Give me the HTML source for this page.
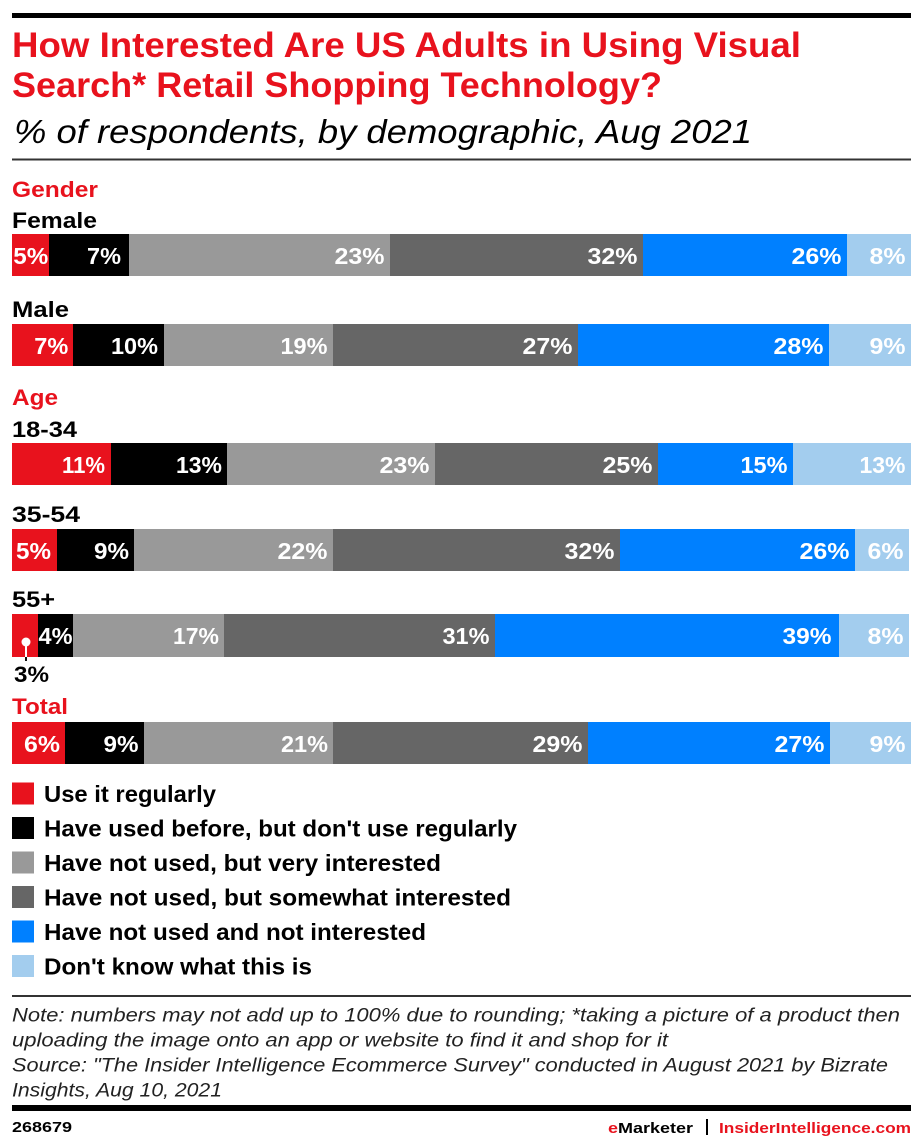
<!DOCTYPE html>
<html>
<head>
<meta charset="utf-8">
<style>
  html,body{margin:0;padding:0;background:#fff;}
  svg{display:block;}
  text{font-family:"Liberation Sans",Arial,sans-serif;}
  .t{font-weight:bold;font-size:35px;fill:#e8121d;}
  .sub{font-style:italic;font-size:33px;fill:#000;}
  .cat{font-weight:bold;font-size:22px;fill:#000;}
  .red{fill:#e8121d;}
  .v{font-weight:bold;font-size:23px;fill:#fff;}
  .lg{font-weight:bold;font-size:23px;fill:#000;}
  .note{font-style:italic;font-size:19px;fill:#222;}
  .foot{font-weight:bold;font-size:15px;fill:#000;}
</style>
</head>
<body>
<svg width="922" height="1147" viewBox="0 0 922 1147" xmlns="http://www.w3.org/2000/svg">
  <rect x="0" y="0" width="922" height="1147" fill="#fff"/>
  <!-- top rule -->
  <rect x="12" y="13" width="899" height="5" fill="#000"/>
  <!-- title -->
  <text class="t" x="12" y="57" textLength="789" lengthAdjust="spacingAndGlyphs">How Interested Are US Adults in Using Visual</text>
  <text class="t" x="12" y="97" textLength="650" lengthAdjust="spacingAndGlyphs">Search* Retail Shopping Technology?</text>
  <text class="sub" x="14" y="143" textLength="738" lengthAdjust="spacingAndGlyphs">% of respondents, by demographic, Aug 2021</text>
  <rect x="12" y="158.5" width="899" height="2" fill="#333"/>

  <!-- category labels -->
  <text class="cat red" x="12" y="197" textLength="86" lengthAdjust="spacingAndGlyphs">Gender</text>
  <text class="cat" x="12" y="228" textLength="85" lengthAdjust="spacingAndGlyphs">Female</text>
  <text class="cat" x="12" y="317" textLength="57" lengthAdjust="spacingAndGlyphs">Male</text>
  <text class="cat red" x="12" y="405" textLength="46" lengthAdjust="spacingAndGlyphs">Age</text>
  <text class="cat" x="12" y="437" textLength="65" lengthAdjust="spacingAndGlyphs">18-34</text>
  <text class="cat" x="12" y="522" textLength="68" lengthAdjust="spacingAndGlyphs">35-54</text>
  <text class="cat" x="12" y="607" textLength="43" lengthAdjust="spacingAndGlyphs">55+</text>
  <text class="cat red" x="12" y="714" textLength="56" lengthAdjust="spacingAndGlyphs">Total</text>

  <!-- Female -->
  <g>
    <rect x="12" y="234" width="37" height="42" fill="#e8121d"/>
    <rect x="49" y="234" width="80" height="42" fill="#000"/>
    <rect x="129" y="234" width="261" height="42" fill="#999"/>
    <rect x="390" y="234" width="253" height="42" fill="#666"/>
    <rect x="643" y="234" width="204" height="42" fill="#0080ff"/>
    <rect x="847" y="234" width="64" height="42" fill="#a3cdee"/>
    <text class="v" x="13.3" y="264" textLength="35" lengthAdjust="spacingAndGlyphs">5%</text>
    <text class="v" x="87" y="264" textLength="34" lengthAdjust="spacingAndGlyphs">7%</text>
    <text class="v" x="334.5" y="264" textLength="50" lengthAdjust="spacingAndGlyphs">23%</text>
    <text class="v" x="587.5" y="264" textLength="50" lengthAdjust="spacingAndGlyphs">32%</text>
    <text class="v" x="791.5" y="264" textLength="50" lengthAdjust="spacingAndGlyphs">26%</text>
    <text class="v" x="869.5" y="264" textLength="36" lengthAdjust="spacingAndGlyphs">8%</text>
  </g>

  <!-- Male -->
  <g>
    <rect x="12" y="324" width="61" height="42" fill="#e8121d"/>
    <rect x="73" y="324" width="91" height="42" fill="#000"/>
    <rect x="164" y="324" width="169" height="42" fill="#999"/>
    <rect x="333" y="324" width="245" height="42" fill="#666"/>
    <rect x="578" y="324" width="251" height="42" fill="#0080ff"/>
    <rect x="829" y="324" width="82" height="42" fill="#a3cdee"/>
    <text class="v" x="34.3" y="354" textLength="34" lengthAdjust="spacingAndGlyphs">7%</text>
    <text class="v" x="111" y="354" textLength="47" lengthAdjust="spacingAndGlyphs">10%</text>
    <text class="v" x="280.5" y="354" textLength="47" lengthAdjust="spacingAndGlyphs">19%</text>
    <text class="v" x="522.5" y="354" textLength="50" lengthAdjust="spacingAndGlyphs">27%</text>
    <text class="v" x="773.5" y="354" textLength="50" lengthAdjust="spacingAndGlyphs">28%</text>
    <text class="v" x="869.5" y="354" textLength="36" lengthAdjust="spacingAndGlyphs">9%</text>
  </g>

  <!-- 18-34 -->
  <g>
    <rect x="12" y="443" width="99" height="42" fill="#e8121d"/>
    <rect x="111" y="443" width="116" height="42" fill="#000"/>
    <rect x="227" y="443" width="208" height="42" fill="#999"/>
    <rect x="435" y="443" width="223" height="42" fill="#666"/>
    <rect x="658" y="443" width="135" height="42" fill="#0080ff"/>
    <rect x="793" y="443" width="118" height="42" fill="#a3cdee"/>
    <text class="v" x="62" y="473" textLength="43" lengthAdjust="spacingAndGlyphs">11%</text>
    <text class="v" x="176" y="473" textLength="46" lengthAdjust="spacingAndGlyphs">13%</text>
    <text class="v" x="379.5" y="473" textLength="50" lengthAdjust="spacingAndGlyphs">23%</text>
    <text class="v" x="602.5" y="473" textLength="50" lengthAdjust="spacingAndGlyphs">25%</text>
    <text class="v" x="740.5" y="473" textLength="47" lengthAdjust="spacingAndGlyphs">15%</text>
    <text class="v" x="859.5" y="473" textLength="46" lengthAdjust="spacingAndGlyphs">13%</text>
  </g>

  <!-- 35-54 -->
  <g>
    <rect x="12" y="529" width="45" height="42" fill="#e8121d"/>
    <rect x="57" y="529" width="77" height="42" fill="#000"/>
    <rect x="134" y="529" width="199" height="42" fill="#999"/>
    <rect x="333" y="529" width="287" height="42" fill="#666"/>
    <rect x="620" y="529" width="235" height="42" fill="#0080ff"/>
    <rect x="855" y="529" width="54" height="42" fill="#a3cdee"/>
    <text class="v" x="16" y="559" textLength="35" lengthAdjust="spacingAndGlyphs">5%</text>
    <text class="v" x="94" y="559" textLength="35" lengthAdjust="spacingAndGlyphs">9%</text>
    <text class="v" x="277.5" y="559" textLength="50" lengthAdjust="spacingAndGlyphs">22%</text>
    <text class="v" x="564.5" y="559" textLength="50" lengthAdjust="spacingAndGlyphs">32%</text>
    <text class="v" x="799.5" y="559" textLength="50" lengthAdjust="spacingAndGlyphs">26%</text>
    <text class="v" x="867.5" y="559" textLength="36" lengthAdjust="spacingAndGlyphs">6%</text>
  </g>

  <!-- 55+ -->
  <g>
    <rect x="12" y="614" width="26" height="43" fill="#e8121d"/>
    <rect x="38" y="614" width="35" height="43" fill="#000"/>
    <rect x="73" y="614" width="151" height="43" fill="#999"/>
    <rect x="224" y="614" width="271" height="43" fill="#666"/>
    <rect x="495" y="614" width="344" height="43" fill="#0080ff"/>
    <rect x="839" y="614" width="70" height="43" fill="#a3cdee"/>
    <text class="v" x="38.5" y="644" textLength="34" lengthAdjust="spacingAndGlyphs">4%</text>
    <text class="v" x="173" y="644" textLength="46" lengthAdjust="spacingAndGlyphs">17%</text>
    <text class="v" x="442.5" y="644" textLength="47" lengthAdjust="spacingAndGlyphs">31%</text>
    <text class="v" x="782.5" y="644" textLength="49" lengthAdjust="spacingAndGlyphs">39%</text>
    <text class="v" x="867.5" y="644" textLength="36" lengthAdjust="spacingAndGlyphs">8%</text>
    <!-- 3% callout -->
    <line x1="26" y1="642" x2="26" y2="657" stroke="#fff" stroke-width="2"/>
    <line x1="26" y1="657" x2="26" y2="661" stroke="#111" stroke-width="2"/>
    <circle cx="26" cy="642" r="4.5" fill="#fff"/>
    <text class="cat" x="14" y="682" textLength="35" lengthAdjust="spacingAndGlyphs">3%</text>
  </g>

  <!-- Total -->
  <g>
    <rect x="12" y="722" width="53" height="42" fill="#e8121d"/>
    <rect x="65" y="722" width="79" height="42" fill="#000"/>
    <rect x="144" y="722" width="189" height="42" fill="#999"/>
    <rect x="333" y="722" width="255" height="42" fill="#666"/>
    <rect x="588" y="722" width="242" height="42" fill="#0080ff"/>
    <rect x="830" y="722" width="81" height="42" fill="#a3cdee"/>
    <text class="v" x="24" y="752" textLength="36" lengthAdjust="spacingAndGlyphs">6%</text>
    <text class="v" x="103.5" y="752" textLength="35" lengthAdjust="spacingAndGlyphs">9%</text>
    <text class="v" x="281" y="752" textLength="47" lengthAdjust="spacingAndGlyphs">21%</text>
    <text class="v" x="532.5" y="752" textLength="50" lengthAdjust="spacingAndGlyphs">29%</text>
    <text class="v" x="774.5" y="752" textLength="50" lengthAdjust="spacingAndGlyphs">27%</text>
    <text class="v" x="869.5" y="752" textLength="36" lengthAdjust="spacingAndGlyphs">9%</text>
  </g>

  <!-- legend -->
  <g>
    <rect x="12" y="782.5" width="22" height="22" fill="#e8121d"/>
    <text class="lg" x="44" y="802" textLength="172" lengthAdjust="spacingAndGlyphs">Use it regularly</text>
    <rect x="12" y="817" width="22" height="22" fill="#000"/>
    <text class="lg" x="44" y="836.5" textLength="473" lengthAdjust="spacingAndGlyphs">Have used before, but don't use regularly</text>
    <rect x="12" y="851.5" width="22" height="22" fill="#999"/>
    <text class="lg" x="44" y="871" textLength="397" lengthAdjust="spacingAndGlyphs">Have not used, but very interested</text>
    <rect x="12" y="886" width="22" height="22" fill="#666"/>
    <text class="lg" x="44" y="905.5" textLength="467" lengthAdjust="spacingAndGlyphs">Have not used, but somewhat interested</text>
    <rect x="12" y="920.5" width="22" height="22" fill="#0080ff"/>
    <text class="lg" x="44" y="940" textLength="382" lengthAdjust="spacingAndGlyphs">Have not used and not interested</text>
    <rect x="12" y="955" width="22" height="22" fill="#a3cdee"/>
    <text class="lg" x="44" y="974.5" textLength="268" lengthAdjust="spacingAndGlyphs">Don't know what this is</text>
  </g>

  <!-- notes -->
  <rect x="12" y="995" width="899" height="2" fill="#333"/>
  <text class="note" x="12" y="1021.5" textLength="888" lengthAdjust="spacingAndGlyphs">Note: numbers may not add up to 100% due to rounding; *taking a picture of a product then</text>
  <text class="note" x="12" y="1046.5" textLength="656" lengthAdjust="spacingAndGlyphs">uploading the image onto an app or website to find it and shop for it</text>
  <text class="note" x="12" y="1071.5" textLength="876" lengthAdjust="spacingAndGlyphs">Source: "The Insider Intelligence Ecommerce Survey" conducted in August 2021 by Bizrate</text>
  <text class="note" x="12" y="1096.5" textLength="210" lengthAdjust="spacingAndGlyphs">Insights, Aug 10, 2021</text>

  <!-- footer -->
  <rect x="12" y="1105" width="899" height="6" fill="#000"/>
  <text class="foot" x="12" y="1132" textLength="60" lengthAdjust="spacingAndGlyphs">268679</text>
  <text class="foot" x="608" y="1133" textLength="85" lengthAdjust="spacingAndGlyphs"><tspan fill="#e8121d">e</tspan>Marketer</text>
  <rect x="706" y="1119" width="2" height="16" fill="#000"/>
  <text class="foot" x="719" y="1133" textLength="192" lengthAdjust="spacingAndGlyphs" fill="#e8121d" style="fill:#e8121d">InsiderIntelligence.com</text>
</svg>
</body>
</html>
